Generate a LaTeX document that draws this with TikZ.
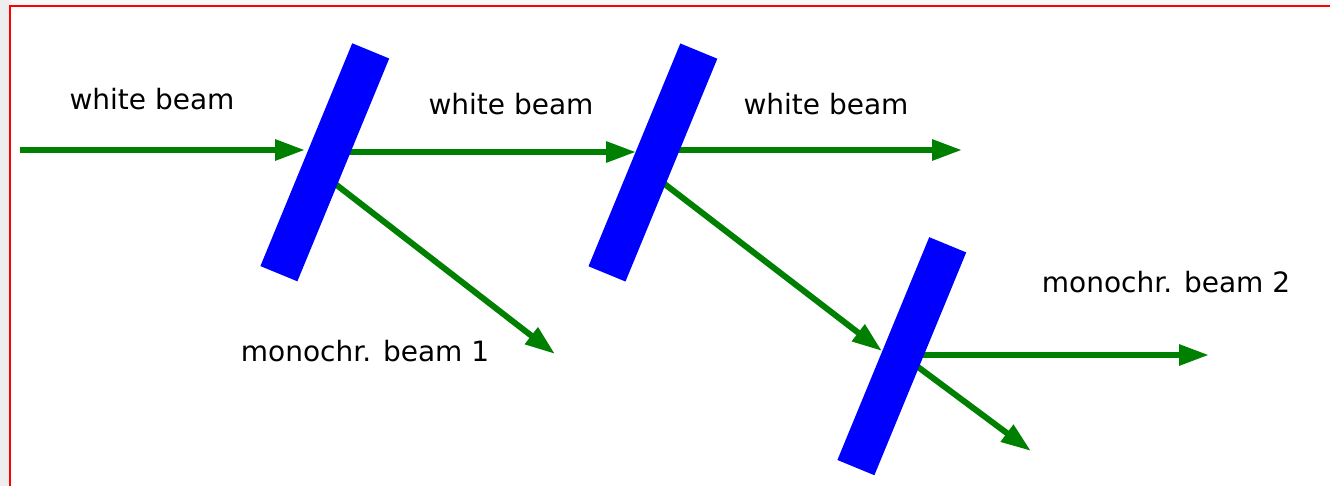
\documentclass[tikz,border=0pt]{standalone}
\usepackage{fontspec}
\setmainfont{DejaVu Sans}
\usepackage{tikz}
\usetikzlibrary{arrows.meta,positioning}

\begin{document}
\begin{tikzpicture}[x=1pt,y=-1pt,>={Triangle[length=30pt,width=20pt]},
  plate/.style={fill=blue,inner sep=0pt,minimum width=40pt,minimum height=241pt,rotate=-22.4},
  beam/.style={->,draw={rgb,255:red,0;green,128;blue,0},line width=6pt},
  lbl/.style={anchor=base,inner sep=0pt,font=\fontsize{28}{33}\selectfont}]
\useasboundingbox (0,0) rectangle (1330,486);
\clip (0,0) rectangle (1330,486);
\fill[gray!5] (0,0) rectangle (1330,486);
\fill[gray!13] (0,0) rectangle (10,486);
\filldraw[fill=white,draw=red,line width=2pt] (10,6) rectangle (1340,496);
% beam points
\coordinate (src) at (20,150);
\coordinate (t1) at (305,150);
\coordinate (o1) at (345,152); \coordinate (t2) at (636,152);
\coordinate (o2) at (672,150); \coordinate (e3) at (962,150);
\coordinate (m1s) at (334,183); \coordinate (m1e) at (555,354);
\coordinate (d2s) at (662,182); \coordinate (t3) at (882,351);
\coordinate (m2s) at (918,355); \coordinate (m2e) at (1209,355);
\coordinate (d3s) at (918,367); \coordinate (d3e) at (1031,451);
\draw[beam] (src)--(t1); \draw[beam] (o1)--(t2); \draw[beam] (o2)--(e3);
\draw[beam] (m1s)--(m1e); \draw[beam] (d2s)--(t3);
\draw[beam] (m2s)--(m2e); \draw[beam] (d3s)--(d3e);
% mirrors
\node[plate] (plate1) at (324.8,162.3) {};
\node[plate] (plate2) at (652.9,162.5) {};
\node[plate] (plate3) at (901.8,356.2) {};
% labels
\node[lbl] (wb1) at (152,110) {white beam};
\node[lbl] (wb2) at (511,115) {white beam};
\node[lbl] (wb3) at (826,115) {white beam};
\node[lbl] (mb1) at (365,361) {monochr. beam 1};
\node[lbl] (mb2) at (1166,292) {monochr. beam 2};
\end{tikzpicture}
\end{document}
